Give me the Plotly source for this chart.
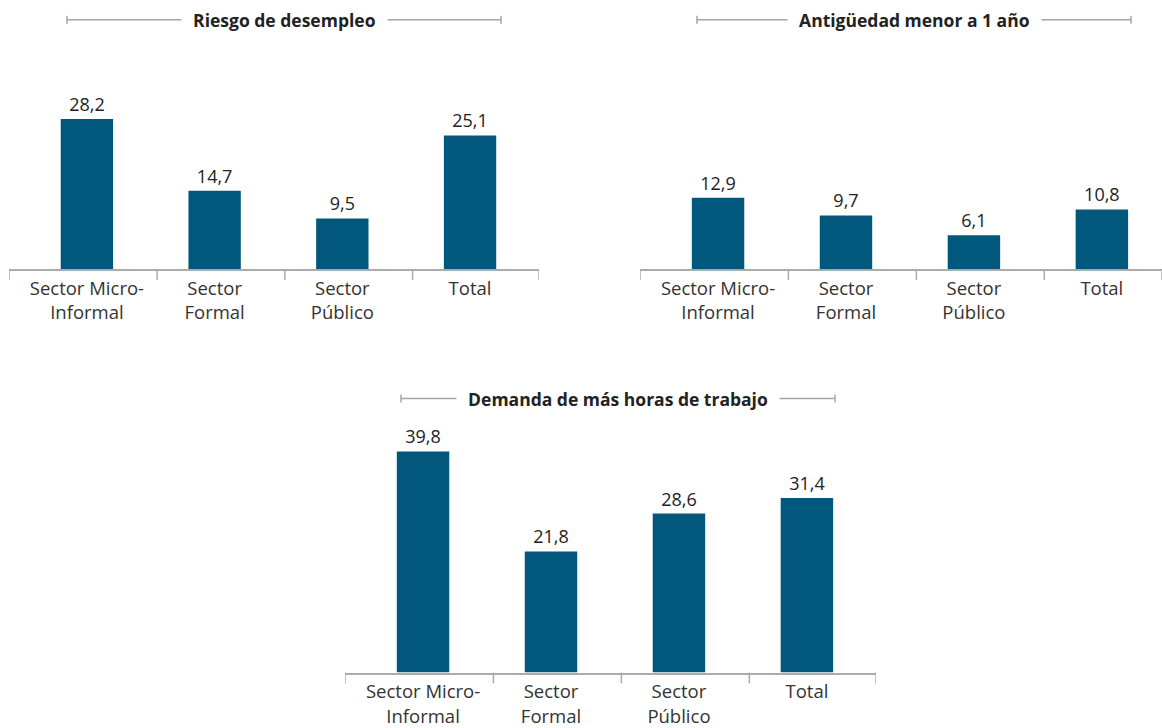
import plotly.graph_objects as go

W, H = 1162, 728
K = 1.007  # small vertical compensation for the capture

categories = ["Sector Micro-<br>Informal", "Sector<br>Formal", "Sector<br>Público", "Total"]
titles = ["Riesgo de desempleo", "Antigüedad menor a 1 año", "Demanda de más horas de trabajo"]
riesgo = [28.2, 14.7, 9.5, 25.1]
antiguedad = [12.9, 9.7, 6.1, 10.8]
demanda = [39.8, 21.8, 28.6, 31.4]
series = [riesgo, antiguedad, demanda]

BAR = "#01587c"
AXIS = "#ababab"
FONT = "Open Sans"


def px(x):
    return x / W


def py(y):
    return 1 - y * K / H


# panel layout in pixels
panels = [
    dict(x0=9, x1=539, top=60, base=272, xend=3.54, ymax=39.4, title_y=20, bracket=(67, 501)),
    dict(x0=640, x1=1162, top=60, base=272, xend=3.47, ymax=38.0, title_y=20, bracket=(697, 1131)),
    dict(x0=345, x1=876, top=430, base=680, xend=3.54, ymax=44.5, title_y=403, bracket=(401, 835)),
]

fig = go.Figure()
shapes = []
annotations = []
tick_positions = [0.55, 1.55, 2.55]

for i, (p, vals, title) in enumerate(zip(panels, series, titles)):
    n = "" if i == 0 else str(i + 1)
    fig.add_trace(go.Bar(
        x=categories, y=vals,
        xaxis="x" + n, yaxis="y" + n,
        marker=dict(color=BAR, line=dict(width=0)),
        width=0.41,
        text=[f"{v:.1f}".replace(".", ",") for v in vals],
        textposition="outside",
        textfont=dict(family=FONT, size=18, color="#222222"),
        cliponaxis=False,
        hoverinfo="skip",
    ))
    fig.update_layout(**{
        "xaxis" + n: dict(
            domain=[px(p["x0"]), px(p["x1"])],
            anchor="y" + n,
            type="category",
            range=[-0.61, p["xend"]],
            showline=True, linecolor=AXIS, linewidth=1.5,
            ticks="", showgrid=False, zeroline=False,
            tickfont=dict(family=FONT, size=18.5, color="#333333"),
            ticklabelstandoff=2,
            fixedrange=True,
        ),
        "yaxis" + n: dict(
            domain=[py(p["base"]), py(p["top"])],
            anchor="x" + n,
            range=[0, p["ymax"]],
            visible=False, showgrid=False, zeroline=False,
            fixedrange=True,
        ),
    })
    # tick marks on category boundaries
    for t in [-0.61] + tick_positions + [p["xend"]]:
        shapes.append(dict(
            type="line", xref="x" + n, yref="paper",
            x0=t, x1=t, y0=py(p["base"]), y1=py(p["base"] + 11),
            line=dict(color=AXIS, width=1.5),
        ))
    # title bracket
    bx0, bx1 = p["bracket"]
    ty = py(p["title_y"])
    shapes.append(dict(type="line", xref="paper", yref="paper",
                       x0=px(bx0), x1=px(bx1), y0=ty, y1=ty,
                       line=dict(color="#a6a6a6", width=1.5)))
    for bx in (bx0, bx1):
        shapes.append(dict(type="line", xref="paper", yref="paper",
                           x0=px(bx), x1=px(bx), y0=py(p["title_y"] - 4), y1=py(p["title_y"] + 4),
                           line=dict(color="#a6a6a6", width=1.5)))
    annotations.append(dict(
        text=f"&nbsp;&nbsp;<b>{title}</b>&nbsp;&nbsp;", xref="paper", yref="paper",
        x=px((bx0 + bx1) / 2), y=ty, xanchor="center", yanchor="middle",
        showarrow=False, bgcolor="white", borderpad=2,
        font=dict(family=FONT, size=17.5, color="#222222"),
    ))

fig.update_layout(
    width=W, height=H,
    margin=dict(l=0, r=0, t=0, b=0),
    paper_bgcolor="white", plot_bgcolor="white",
    showlegend=False,
    shapes=shapes,
    annotations=annotations,
)

post = "document.body.style.margin='0';"

fig.write_html("out.html", config={"displayModeBar": False}, post_script=post)
